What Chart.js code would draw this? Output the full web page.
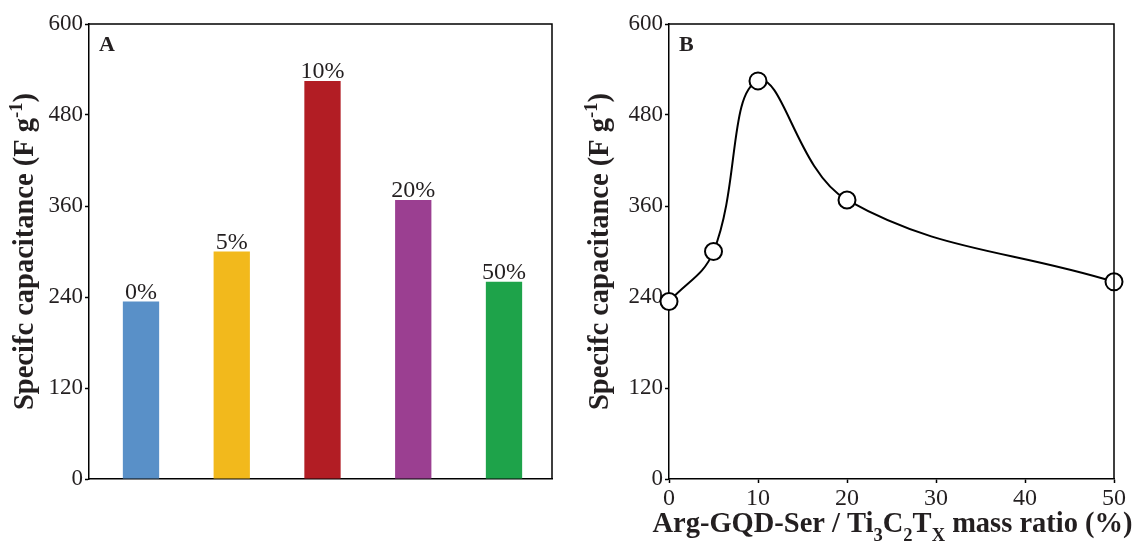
<!DOCTYPE html>
<html>
<head>
<meta charset="utf-8">
<script src="https://cdn.jsdelivr.net/npm/chart.js@4"></script>
<style>
  body { margin: 0; background: #fff; }
  .panel { position: absolute; top: 0; }
</style>
</head>
<body>
<div class="panel" style="left:0"><canvas id="barChart" width="565" height="542"></canvas></div>
<div class="panel" style="left:570px"><canvas id="lineChart" width="566" height="542"></canvas></div>
<script>
const categories = ['0%', '5%', '10%', '20%', '50%'];
const ratios = [0, 5, 10, 20, 50];
const capacitance = [234, 300, 525, 368, 260];
const barColors = ['#5990c8', '#f2b91c', '#b21d24', '#9b3f91', '#1ea34a'];
const yTickStep = 120;
const xTickStep = 10;

const serif = '"Liberation Serif", "Times New Roman", serif';
const ink = '#231f20';

// draw text with sub/superscripts, centred on (x, y), optionally rotated
function drawRich(ctx, segs, x, y, size, rot) {
    ctx.save();
    ctx.translate(x, y);
    if (rot) ctx.rotate(rot);
    let total = 0;
    segs.forEach(s => {
        ctx.font = 'bold ' + (s.sub || s.sup ? size * 0.65 : size) + 'px ' + serif;
        s.w = ctx.measureText(s.t).width;
        total += s.w;
    });
    let cx = -total / 2;
    ctx.fillStyle = ink;
    ctx.textBaseline = 'alphabetic';
    ctx.textAlign = 'left';
    segs.forEach(s => {
        ctx.font = 'bold ' + (s.sub || s.sup ? size * 0.65 : size) + 'px ' + serif;
        let dy = s.sub ? size * 0.3 : (s.sup ? -size * 0.4 : 0);
        ctx.fillText(s.t, cx, size * 0.33 + dy);
        cx += s.w;
    });
    ctx.restore();
}

const yTitle = [{t: 'Specifc capacitance (F g'}, {t: '-1', sup: true}, {t: ')'}];
const xTitle = [{t: 'Arg-GQD-Ser / Ti'}, {t: '3', sub: true}, {t: 'C'}, {t: '2', sub: true},
    {t: 'T'}, {t: 'X', sub: true}, {t: ' mass ratio (%)'}];

function framePlugin(letter, yTitleX, withXTitle) {
    return {
        id: 'frame' + letter,
        afterDraw(chart) {
            const ctx = chart.ctx;
            const a = chart.chartArea;
            ctx.save();
            ctx.strokeStyle = '#000';
            ctx.lineWidth = 1.5;
            ctx.beginPath();
            ctx.moveTo(a.left, a.top);
            ctx.lineTo(a.right, a.top);
            ctx.lineTo(a.right, a.bottom);
            ctx.stroke();
            ctx.fillStyle = ink;
            ctx.font = 'bold 22px ' + serif;
            ctx.textAlign = 'left';
            ctx.textBaseline = 'alphabetic';
            ctx.fillText(letter, a.left + 10, a.top + 27);
            ctx.restore();
            drawRich(ctx, yTitle, yTitleX, (a.top + a.bottom) / 2, 28.5, -Math.PI / 2);
            if (withXTitle) {
                drawRich(ctx, xTitle, (a.left + a.right) / 2 + 1, 523, 28.5, 0);
            }
        }
    };
}

const barLabels = {
    id: 'barLabels',
    afterDatasetsDraw(chart) {
        const ctx = chart.ctx;
        ctx.save();
        ctx.fillStyle = ink;
        ctx.font = '24px ' + serif;
        ctx.textAlign = 'center';
        ctx.textBaseline = 'alphabetic';
        chart.getDatasetMeta(0).data.forEach((bar, i) => {
            ctx.fillText(categories[i], bar.x, bar.y - 3);
        });
        ctx.restore();
    }
};

const yAxis = (w) => ({
    min: 0,
    max: 600,
    ticks: { stepSize: yTickStep, color: ink, font: { family: serif, size: 23 }, padding: 2 },
    grid: { drawOnChartArea: false, tickLength: 4, color: '#000', tickWidth: 1.5 },
    border: { color: '#000', width: 1.5 },
    afterFit: s => { s.width = w; }
});

new Chart($('barChart'), {
    type: 'bar',
    data: {
        datasets: [{
            data: capacitance.map((v, i) => ({ x: i, y: v })),
            backgroundColor: barColors,
            barPercentage: 0.4,
            categoryPercentage: 1
        }]
    },
    options: {
        responsive: false,
        animation: false,
        layout: { padding: { top: 24, right: 13, left: 0, bottom: 0 } },
        plugins: { legend: { display: false }, tooltip: { enabled: false } },
        scales: {
            x: {
                type: 'linear',
                offset: false,
                min: -0.573,
                max: 4.529,
                ticks: { display: false },
                grid: { display: false },
                border: { color: '#000', width: 1.5 },
                afterFit: s => { s.height = 63; }
            },
            y: yAxis(89)
        }
    },
    plugins: [barLabels, framePlugin('A', 24, false)]
});

new Chart($('lineChart'), {
    type: 'line',
    data: {
        datasets: [{
            data: ratios.map((r, i) => ({ x: r, y: capacitance[i] })),
            borderColor: '#000',
            borderWidth: 2,
            tension: 0.4,
            pointRadius: 8.5,
            pointBorderWidth: 2,
            pointBackgroundColor: '#fff',
            pointBorderColor: '#000',
            clip: false
        }]
    },
    options: {
        responsive: false,
        animation: false,
        layout: { padding: { top: 24, right: 22, left: 0, bottom: 0 } },
        plugins: { legend: { display: false }, tooltip: { enabled: false } },
        scales: {
            x: {
                type: 'linear',
                min: 0,
                max: 50,
                ticks: { stepSize: xTickStep, color: ink, font: { family: serif, size: 24 }, padding: 1, maxRotation: 0 },
                grid: { drawOnChartArea: false, tickLength: 4, color: '#000', tickWidth: 1.5 },
                border: { color: '#000', width: 1.5 },
                afterFit: s => { s.height = 63; }
            },
            y: yAxis(99)
        }
    },
    plugins: [framePlugin('B', 29, true)]
});

function $(id) { return document.getElementById(id); }
</script>
</body>
</html>
